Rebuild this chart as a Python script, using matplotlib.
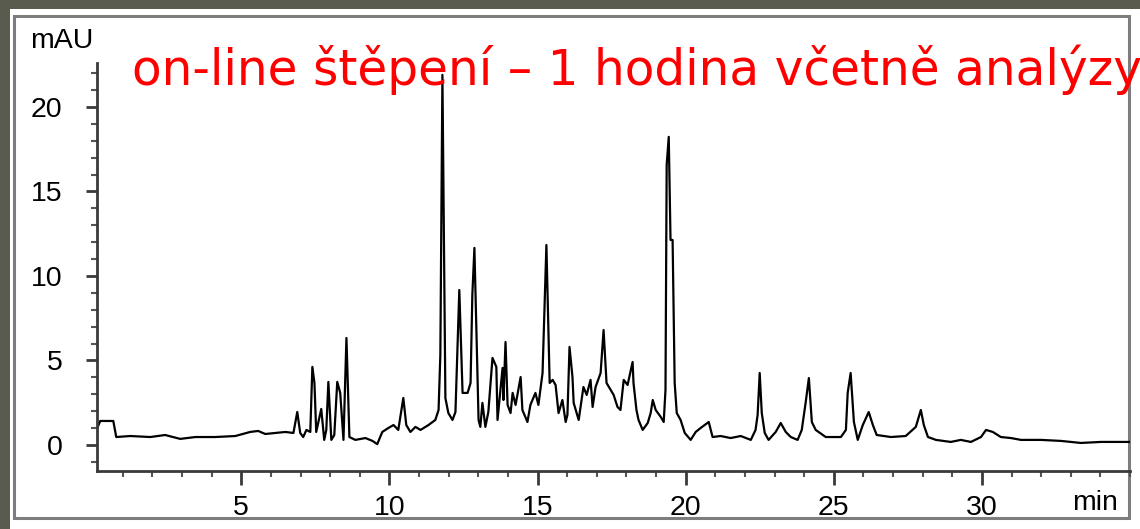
import matplotlib
matplotlib.use("Agg")
import matplotlib.pyplot as plt
from matplotlib.patches import Rectangle
from matplotlib.ticker import MultipleLocator

# --- chromatogram trace (min, mAU) ---
time_min = [
    0.14, 0.24, 0.68, 0.78, 1.25, 1.93, 2.43, 2.94, 3.45, 4.12, 4.80, 5.30,
    5.57, 5.81, 6.15, 6.49, 6.76, 6.89, 6.99, 7.09, 7.20, 7.33, 7.40, 7.47,
    7.53, 7.70, 7.80, 7.87, 7.94, 8.04, 8.14, 8.24, 8.34, 8.45, 8.55, 8.65,
    8.85, 9.19, 9.43, 9.59, 9.76, 9.97, 10.14, 10.30, 10.47, 10.57, 10.71, 10.88,
    11.05, 11.32, 11.55, 11.66, 11.72, 11.79, 11.89, 11.99, 12.13, 12.23, 12.36, 12.47,
    12.64, 12.74, 12.80, 12.87, 12.94, 13.01, 13.07, 13.14, 13.24, 13.34, 13.48, 13.61,
    13.65, 13.82, 13.85, 13.92, 13.99, 14.09, 14.16, 14.26, 14.43, 14.49, 14.66, 14.76,
    14.93, 15.03, 15.17, 15.30, 15.41, 15.51, 15.61, 15.71, 15.84, 15.95, 16.01, 16.08,
    16.18, 16.22, 16.39, 16.55, 16.66, 16.79, 16.86, 16.96, 17.13, 17.23, 17.33, 17.47,
    17.57, 17.70, 17.80, 17.91, 18.04, 18.21, 18.24, 18.34, 18.41, 18.55, 18.72, 18.82,
    18.89, 18.99, 19.16, 19.26, 19.32, 19.36, 19.43, 19.49, 19.56, 19.63, 19.70, 19.83,
    19.97, 20.17, 20.34, 20.51, 20.78, 20.91, 21.18, 21.52, 21.86, 22.20, 22.36, 22.43,
    22.50, 22.57, 22.67, 22.80, 23.04, 23.21, 23.38, 23.55, 23.78, 23.92, 24.05, 24.16,
    24.26, 24.39, 24.73, 25.24, 25.41, 25.47, 25.57, 25.68, 25.81, 25.98, 26.18, 26.32,
    26.45, 26.93, 27.43, 27.77, 27.94, 28.04, 28.18, 28.45, 28.95, 29.29, 29.63, 29.97,
    30.14, 30.37, 30.64, 30.98, 31.32, 31.99, 32.67, 33.34, 34.02, 34.97,
]
signal_mau = [
    1.01, 1.42, 1.42, 0.47, 0.53, 0.47, 0.59, 0.36, 0.47, 0.47, 0.53, 0.77,
    0.83, 0.65, 0.71, 0.77, 0.71, 1.95, 0.71, 0.47, 0.89, 0.77, 4.62, 3.67,
    0.77, 2.13, 0.30, 0.89, 3.73, 0.30, 0.59, 3.73, 3.08, 0.30, 6.33, 0.47,
    0.30, 0.41, 0.24, 0.05, 0.77, 1.01, 1.18, 0.89, 2.78, 1.18, 0.77, 1.07,
    0.89, 1.18, 1.48, 2.07, 5.33, 21.9, 2.78, 1.89, 1.48, 1.95, 9.17, 3.08,
    3.08, 3.67, 8.88, 11.66, 6.69, 1.48, 1.07, 2.49, 1.07, 1.95, 5.15, 4.62,
    1.48, 4.56, 2.66, 6.09, 2.37, 1.89, 3.08, 2.37, 4.02, 2.07, 1.36, 2.37,
    3.08, 2.37, 4.26, 11.83, 3.67, 3.85, 3.55, 1.89, 2.66, 1.36, 1.78, 5.80,
    4.02, 2.49, 1.48, 3.43, 2.96, 3.85, 2.25, 3.43, 4.26, 6.80, 3.67, 3.25,
    2.96, 2.25, 2.07, 3.85, 3.55, 4.91, 3.67, 2.07, 1.48, 0.89, 1.30, 1.89,
    2.66, 2.07, 1.66, 1.36, 3.25, 16.57, 18.23, 12.13, 12.13, 3.67, 1.89, 1.48,
    0.71, 0.30, 0.77, 1.01, 1.36, 0.47, 0.53, 0.41, 0.53, 0.30, 0.89, 1.78,
    4.26, 1.89, 0.71, 0.30, 0.77, 1.30, 0.77, 0.47, 0.30, 0.89, 2.49, 3.96,
    1.36, 0.89, 0.47, 0.47, 0.89, 3.08, 4.26, 1.36, 0.30, 1.18, 1.95, 1.18,
    0.59, 0.47, 0.53, 1.07, 2.07, 1.18, 0.47, 0.30, 0.18, 0.30, 0.18, 0.47,
    0.89, 0.77, 0.47, 0.41, 0.30, 0.30, 0.24, 0.12, 0.18, 0.18,
]

x_ticks = [5, 10, 15, 20, 25, 30]
y_ticks = [0, 5, 10, 15, 20]
title_text = "on-line štěpení – 1 hodina včetně analýzy"

W, H = 1140, 529
fig = plt.figure(figsize=(W / 100, H / 100), dpi=100)
fig.patch.set_facecolor("#5a5b4f")

# white screenshot panel + its grey window border
fig.patches.append(Rectangle((10 / W, 0), 1 - 10 / W, 1 - 9 / H,
                             transform=fig.transFigure, facecolor="white",
                             edgecolor="none", zorder=-2))
fig.patches.append(Rectangle((14 / W, 1 - 518 / H), (1129 - 14) / W, (518 - 16) / H,
                             transform=fig.transFigure, facecolor="none",
                             edgecolor="#7d7d7d", linewidth=2.2, zorder=-1))

ax = fig.add_axes([97 / W, 1 - 471 / H, (1130 - 97) / W, (471 - 63) / H])
ax.set_zorder(2)
ax.set_facecolor("none")
ax.plot(time_min, signal_mau, color="black", linewidth=1.6)

ax.set_xlim(0.13, 35.0)
ax.set_ylim(-1.54, 22.6)

for side in ["top", "right"]:
    ax.spines[side].set_visible(False)
for side in ["left", "bottom"]:
    ax.spines[side].set_color("#3a3a3a")
    ax.spines[side].set_linewidth(2)

ax.set_xticks(x_ticks)
ax.set_yticks(y_ticks)
ax.xaxis.set_minor_locator(MultipleLocator(1))
ax.yaxis.set_minor_locator(MultipleLocator(1))
ax.tick_params(axis="x", which="major", length=10, width=2, color="#3a3a3a",
               pad=7, labelsize=20.5)
ax.tick_params(axis="y", which="major", length=8, width=2, color="#3a3a3a",
               pad=17, labelsize=20.5)
ax.tick_params(which="minor", length=4, width=1.5, color="#555555")
for lab in ax.get_xticklabels() + ax.get_yticklabels():
    lab.set_fontfamily("Liberation Sans")

fig.text(30 / W, 1 - 48 / H, "mAU", fontsize=20.5, family="Liberation Sans",
         ha="left", va="baseline", zorder=3)
fig.text(1072 / W, 1 - 510 / H, "min", fontsize=20.5, family="Liberation Sans",
         ha="left", va="baseline", zorder=3)
fig.text(132 / W, 1 - 85 / H, title_text, fontsize=35, color="red",
         family="DejaVu Sans", ha="left", va="baseline", zorder=3)

fig.savefig("out.png", dpi=100, facecolor=fig.get_facecolor())
